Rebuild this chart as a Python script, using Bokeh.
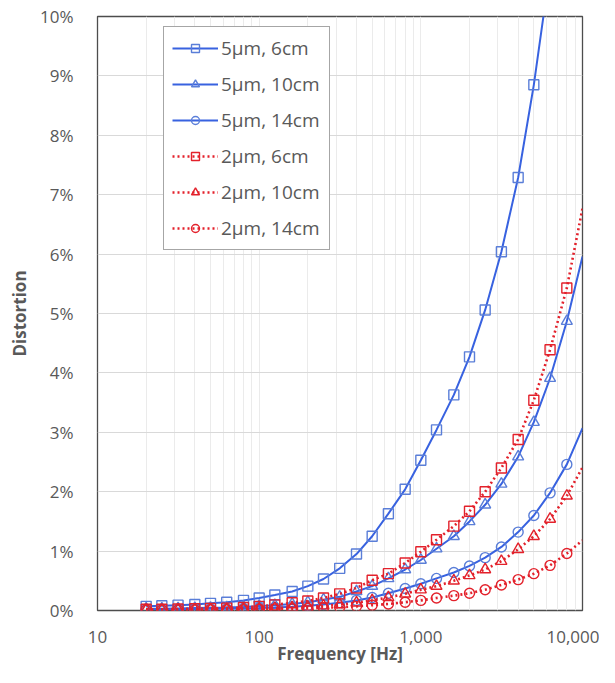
from bokeh.plotting import figure
from bokeh.models import (FixedTicker, NumeralTickFormatter, PrintfTickFormatter,
                          Legend, LegendItem, Range1d)
from bokeh.embed import file_html
from bokeh.resources import INLINE

# 1/3-octave frequencies (markers) plus the line end at 10 kHz
freq = [20, 25, 31.5, 40, 50, 63, 80, 100, 125, 160, 200, 250, 315, 400, 500,
        630, 800, 1000, 1250, 1600, 2000, 2500, 3150, 4000, 5000, 6300, 8000, 10000]

# Distortion in percent
d_5um_6cm = [0.07, 0.08, 0.09, 0.10, 0.12, 0.14, 0.17, 0.21, 0.26, 0.32, 0.41, 0.53,
             0.71, 0.95, 1.25, 1.63, 2.04, 2.53, 3.04, 3.63, 4.27, 5.06, 6.04, 7.29,
             8.85, 10.8, 13.2, 15.8]
d_5um_10cm = [0.03, 0.03, 0.035, 0.04, 0.045, 0.05, 0.06, 0.075, 0.09, 0.11, 0.14, 0.18,
              0.23, 0.32, 0.41, 0.54, 0.69, 0.85, 1.04, 1.25, 1.50, 1.78, 2.13, 2.59,
              3.17, 3.91, 4.87, 5.96]
d_5um_14cm = [0.02, 0.02, 0.02, 0.025, 0.03, 0.03, 0.035, 0.04, 0.05, 0.065, 0.08, 0.10,
              0.13, 0.17, 0.22, 0.29, 0.37, 0.45, 0.54, 0.64, 0.75, 0.89, 1.07, 1.32,
              1.60, 1.98, 2.46, 3.07]
d_2um_6cm = [0.02, 0.02, 0.025, 0.03, 0.035, 0.04, 0.05, 0.07, 0.095, 0.13, 0.16, 0.21,
             0.28, 0.38, 0.51, 0.62, 0.80, 0.99, 1.19, 1.42, 1.67, 2.00, 2.40, 2.88,
             3.54, 4.39, 5.43, 6.77]
d_2um_10cm = [0.01, 0.01, 0.012, 0.015, 0.018, 0.02, 0.025, 0.03, 0.04, 0.05, 0.06, 0.08,
              0.10, 0.13, 0.17, 0.22, 0.28, 0.35, 0.41, 0.50, 0.59, 0.69, 0.83, 1.03,
              1.25, 1.54, 1.93, 2.41]
d_2um_14cm = [0.01, 0.01, 0.01, 0.01, 0.012, 0.013, 0.015, 0.02, 0.025, 0.03, 0.035, 0.045,
              0.055, 0.07, 0.09, 0.11, 0.14, 0.17, 0.21, 0.25, 0.29, 0.35, 0.43, 0.52,
              0.62, 0.76, 0.96, 1.18]

labels = ["5µm, 6cm", "5µm, 10cm", "5µm, 14cm", "2µm, 6cm", "2µm, 10cm", "2µm, 14cm"]
series = [d_5um_6cm, d_5um_10cm, d_5um_14cm, d_2um_6cm, d_2um_10cm, d_2um_14cm]
markers = ["square", "triangle", "circle", "square", "triangle", "circle"]

x_ticks = [10, 100, 1000, 10000]
y_ticks = list(range(0, 11))

FONT = "Open Sans"
TXT = "#595959"
BLUE = "#3862e0"
BLUE_M = "#5a7ed8"
RED = "#e3212b"

p = figure(width=599, height=667, x_axis_type="log",
           x_range=Range1d(10, 10000), y_range=Range1d(0, 10),
           output_backend="svg", toolbar_location=None,
           min_border_left=97, min_border_right=17, min_border_top=16, min_border_bottom=53)

p.outline_line_color = "#4d4d4d"
p.outline_line_width = 1.3

minor = [m * 10 ** k for k in range(1, 4) for m in range(2, 10)]
p.xaxis.ticker = FixedTicker(ticks=x_ticks, minor_ticks=minor)
p.xaxis.formatter = NumeralTickFormatter(format="0,0")
p.yaxis.ticker = FixedTicker(ticks=y_ticks)
p.yaxis.formatter = PrintfTickFormatter(format="%d%%")

for ax in (p.xaxis, p.yaxis):
    ax.axis_line_color = None
    ax.major_tick_line_color = None
    ax.minor_tick_line_color = None
    ax.major_label_text_font = FONT
    ax.major_label_text_font_size = "17px"
    ax.major_label_text_color = TXT
    ax.axis_label_text_font = FONT
    ax.axis_label_text_font_style = "bold"
    ax.axis_label_text_font_size = "17px"
    ax.axis_label_text_color = TXT

p.xaxis.axis_label = "Frequency [Hz]"
p.yaxis.axis_label = "Distortion"
p.xaxis.major_label_standoff = 14
p.xaxis.axis_label_standoff = -4
p.yaxis.major_label_standoff = 18
p.yaxis.axis_label_standoff = 6

p.xgrid.grid_line_color = "#ebebeb"
p.xgrid.minor_grid_line_color = "#ebebeb"
p.ygrid.grid_line_color = "#d9d9d9"
p.ygrid.grid_line_width = 1.2

items = []
for i, (lab, vals, mk) in enumerate(zip(labels, series, markers)):
    if i < 3:
        lr = p.line(freq, vals, line_color=BLUE, line_width=2)
        mcol = BLUE_M
    else:
        lr = p.line(freq, vals, line_color=RED, line_width=2.6, line_dash="2 3")
        mcol = RED
    sz = 11 if mk == "triangle" else 10
    sr = p.scatter(freq[:-1], vals[:-1], marker=mk, size=sz, fill_color=None,
                   line_color=mcol, line_width=1.4)
    items.append(LegendItem(label=lab, renderers=[lr, sr]))

legend = Legend(items=items, location=(66, 360), margin=0, padding=8,
                glyph_width=46, glyph_height=20, spacing=10, label_standoff=3,
                label_width=100, label_text_font=FONT, label_text_font_size="19px",
                label_text_color=TXT, border_line_color="#4d4d4d",
                border_line_width=1.3, background_fill_alpha=1.0)
p.add_layout(legend, "center")

open("out.html", "w").write(file_html(p, INLINE))
